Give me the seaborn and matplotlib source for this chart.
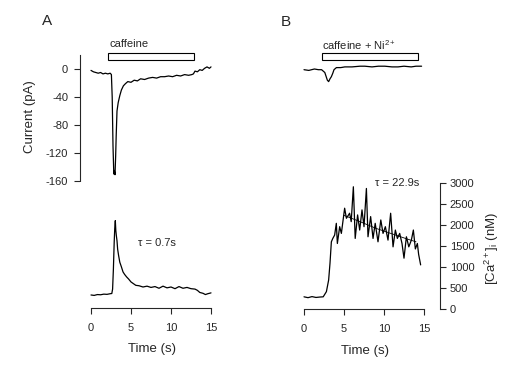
import matplotlib
matplotlib.use('Agg')
import matplotlib.pyplot as plt
from matplotlib.patches import Rectangle
import seaborn as sns

# panel A, membrane current (pA) vs time (s)
a_cur_t = [0, 0.3, 0.6, 0.9, 1.2, 1.5, 1.8, 2.1, 2.4, 2.55, 2.65, 2.75, 2.85, 2.92, 3.0,
           3.08, 3.15, 3.25, 3.4, 3.6, 3.8, 4.05, 4.3, 4.6, 5.0, 5.4, 5.8, 6.2, 6.7, 7.2,
           7.7, 8.2, 8.7, 9.2, 9.7, 10.2, 10.7, 11.2, 11.7, 12.2, 12.6, 12.8, 13.0, 13.3,
           13.6, 13.9, 14.2, 14.5, 14.8, 15.0]
a_cur_v = [-2, -4, -5, -6, -5, -7, -6, -7, -6, -8, -40, -110, -150, -145, -151,
           -125, -95, -60, -48, -38, -30, -24, -21, -18, -19, -16, -17, -14, -15, -13,
           -12, -13, -11, -11, -10, -11, -9, -10, -8, -9, -8, -7, -3, -4,
           -1, -2, 1, 3, 1, 3]

# panel A, [Ca2+]i (nM)
a_ca_t = [0, 0.4, 0.8, 1.2, 1.6, 2.0, 2.4, 2.6, 2.7, 2.8, 2.9, 2.97, 3.04, 3.1, 3.17,
          3.25, 3.33, 3.45, 3.6, 3.8, 4.0, 4.2, 4.45, 4.7, 5.0, 5.3, 5.6, 6.0, 6.5, 7.0,
          7.5, 8.0, 8.5, 9.0, 9.5, 10.0, 10.5, 11.0, 11.5, 12.0, 12.5, 13.0, 13.3, 13.6,
          14.0, 14.3, 14.6, 15.0]
a_ca_v = [310, 300, 320, 315, 330, 325, 340, 345, 450, 930, 1570, 1900, 2080, 1850, 1720,
          1600, 1400, 1250, 1090, 980, 860, 800, 740, 690, 620, 580, 540, 530, 500, 520,
          490, 510, 470, 520, 480, 500, 460, 510, 470, 490, 460, 450, 420, 370,
          350, 320, 340, 360]

# panel B, current with caffeine + Ni2+
b_cur_t = [0, 0.6, 1.3, 1.8, 2.2, 2.6, 2.92, 3.08, 3.25, 3.42, 3.6, 3.75, 4.05, 4.6,
           5.1, 6.0, 7.0, 7.6, 8.5, 9.3, 10.1, 11.0, 11.75, 12.5, 13.4, 14.0, 14.7]
b_cur_v = [-1, -2, 0, -1, -1, -5, -16, -18, -14, -11, -6, -1, 2, 2,
           3, 3, 4, 4, 3, 4, 4, 3, 3, 4, 3, 4, 4]

# panel B, [Ca2+]i (nM)
b_ca_t = [0, 0.5, 1.0, 1.5, 2.0, 2.4, 2.8, 3.08, 3.25, 3.42, 3.6, 3.83, 4.04, 4.17,
          4.46, 4.67, 5.08, 5.3, 5.7, 5.9, 6.17, 6.4, 6.7, 6.96, 7.25, 7.5, 7.8, 8.0,
          8.33, 8.63, 8.9, 9.25, 9.6, 9.88, 10.17, 10.5, 10.83, 11.13, 11.42, 11.67,
          11.96, 12.25, 12.5, 12.8, 13.1, 13.42, 13.67, 13.92, 14.17, 14.33, 14.58]
b_ca_v = [290, 270, 295, 275, 285, 290, 413, 690, 1090, 1600, 1680, 1760, 2040, 1560,
          1960, 1800, 2400, 2160, 2280, 2080, 2910, 1680, 2240, 1880, 2360, 1960, 2870, 1720,
          2200, 1680, 2040, 1600, 2120, 1800, 1960, 1640, 2280, 1480, 1880, 1680,
          1800, 1560, 1210, 1720, 1480, 1640, 1880, 1430, 1560, 1300, 1050]

# decay fit drawn through panel B plateau
b_fit_t = [5.0, 7.0, 9.0, 11.0, 13.0, 14.0]
b_fit_v = [2230, 2080, 1920, 1790, 1660, 1600]

# application bars (s)
a_bar = [2.17, 12.9]
b_bar = [2.3, 14.2]

sns.set_style('ticks')
plt.rcParams['font.family'] = ['Liberation Sans', 'DejaVu Sans']
plt.rcParams['mathtext.fontset'] = 'custom'
plt.rcParams['mathtext.rm'] = 'Liberation Sans'
plt.rcParams['mathtext.it'] = 'Liberation Sans:italic'
plt.rcParams['axes.unicode_minus'] = False

W, H = 513, 372
fig = plt.figure(figsize=(W / 100, H / 100), dpi=100)


def rect(left, top, w, h):
    return [left / W, 1 - (top + h) / H, w / W, h / H]


axA1 = fig.add_axes(rect(80, 55, 147, 126))
axA2 = fig.add_axes(rect(80, 182, 147, 126))
axB1 = fig.add_axes(rect(293, 55, 147, 126))
axB2 = fig.add_axes(rect(293, 183, 147, 126))

lw = 0.9
sns.lineplot(x=a_cur_t, y=a_cur_v, ax=axA1, color='black', lw=lw, estimator=None)
sns.lineplot(x=a_ca_t, y=a_ca_v, ax=axA2, color='black', lw=lw, estimator=None)
sns.lineplot(x=b_cur_t, y=b_cur_v, ax=axB1, color='black', lw=lw, estimator=None)
sns.lineplot(x=b_ca_t, y=b_ca_v, ax=axB2, color='black', lw=lw, estimator=None)
sns.lineplot(x=b_fit_t, y=b_fit_v, ax=axB2, color='black', lw=0.6, estimator=None)

for ax in (axA1, axB1):
    ax.set_xlim(-1.375, 17)
    ax.set_ylim(-160, 20)
for ax in (axA2, axB2):
    ax.set_xlim(-1.375, 17)
    ax.set_ylim(0, 3000)

for ax in (axA1, axA2, axB1, axB2):
    for s in ax.spines.values():
        s.set_visible(False)
        s.set_linewidth(0.8)
    ax.set_xticks([])
    ax.set_yticks([])
    ax.tick_params(labelsize=8, width=0.8, length=4.5)

# current axis, panel A
axA1.spines['left'].set_visible(True)
axA1.set_yticks([0, -40, -80, -120, -160])
axA1.tick_params(axis='y', pad=4)

# time axes
for ax in (axA2, axB2):
    ax.spines['bottom'].set_visible(True)
    ax.spines['bottom'].set_bounds(0, 15)
    ax.set_xticks([0, 5, 10, 15])
    ax.tick_params(axis='x', pad=6)

# calcium axis, panel B (right side)
axB2.spines['right'].set_visible(True)
axB2.yaxis.tick_right()
axB2.set_yticks([0, 500, 1000, 1500, 2000, 2500, 3000])
axB2.tick_params(axis='y', pad=2.5)

# application bars
axA1.add_patch(Rectangle((a_bar[0], 12.9), a_bar[1] - a_bar[0], 10, facecolor='white',
                         edgecolor='black', lw=0.8, clip_on=False))
axB1.add_patch(Rectangle((b_bar[0], 12.9), b_bar[1] - b_bar[0], 10, facecolor='white',
                         edgecolor='black', lw=0.8, clip_on=False))


def ftext(x, y, s, **kw):
    fig.text(x / W, 1 - y / H, s, **kw)


ftext(47, 21, 'A', fontsize=11, ha='center', va='center')
ftext(286, 22, 'B', fontsize=11, ha='center', va='center')
ftext(110, 44, 'caffeine', fontsize=8, ha='left', va='center')
ftext(322, 45, 'caffeine + Ni$^{2+}$', fontsize=8, ha='left', va='center')
ftext(138, 243, 'τ = 0.7s', fontsize=8, ha='left', va='center')
ftext(375, 183, 'τ = 22.9s', fontsize=8, ha='left', va='center')
ftext(30, 117, 'Current (pA)', fontsize=9.5, ha='center', va='center', rotation=90)
ftext(152, 349, 'Time (s)', fontsize=9.5, ha='center', va='center')
ftext(365, 351, 'Time (s)', fontsize=9.5, ha='center', va='center')
ftext(492, 248, r'[Ca$^{2+}$]$_\mathrm{i}$ (nM)', fontsize=9.5, ha='center', va='center',
      rotation=90)

fig.savefig('out.png', dpi=100, facecolor='white')
